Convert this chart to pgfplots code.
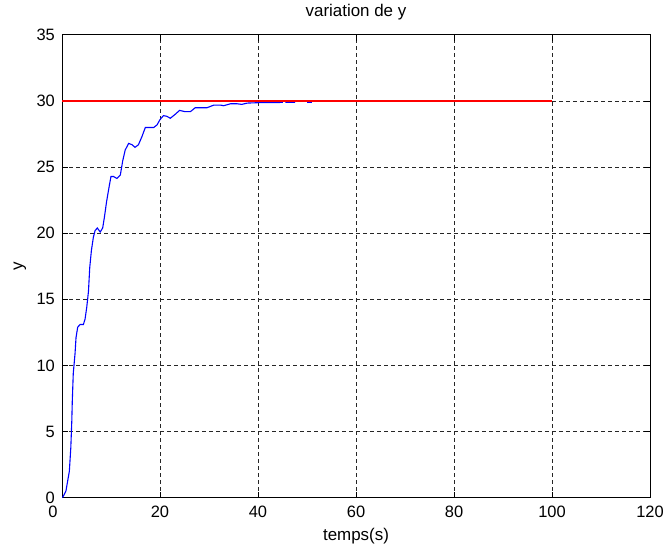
\documentclass[border=0pt]{standalone}
\usepackage{pgfplots}
\pgfplotsset{compat=1.18}
\usepackage{fontspec}
\setmainfont{Liberation Sans}

\definecolor{curveblue}{RGB}{0,0,255}
\definecolor{setred}{RGB}{255,0,0}

\begin{document}
\begin{tikzpicture}
% fixed page frame
\path[use as bounding box] (0,0) rectangle (663bp,552bp);
\begin{axis}[
  at={(62bp,54.3bp)}, anchor=south west,
  scale only axis,
  width=588bp, height=462.7bp,
  xmin=0, xmax=120, ymin=0, ymax=35,
  xtick={0,20,...,120},
  ytick={0,5,...,35},
  xticklabels={{\makebox[0pt]{0\hspace*{18bp}}},20,40,60,80,100,120},
  tick align=inside,
  xtick pos=both, ytick pos=both,
  major tick length=6bp,
  minor tick num=0,
  axis line style={black, line width=1bp},
  every tick/.style={black, line width=1bp},
  grid=major,
  major grid style={black!85, line width=1bp, dash pattern=on 4bp off 3bp},
  font=\fontsize{16.5}{19}\selectfont,
  /pgf/number format/assume math mode=true,
  xticklabel style={anchor=base, yshift=-20.3bp, inner sep=0pt},
  yticklabel style={anchor=east, xshift=-7bp, inner sep=0pt},
  title={variation de y},
  title style={at={(axis description cs:0.5,1.026)}, anchor=base, font=\fontsize{17}{20}\selectfont, inner sep=0pt},
  xlabel={temps(s)},
  xlabel style={at={(axis description cs:0.5,-0.0828)}, anchor=center, font=\fontsize{17}{20}\selectfont, inner sep=0pt},
  ylabel={y},
  ylabel style={at={(axis description cs:-0.0714,0.5)}, anchor=center, rotate=0, font=\fontsize{17}{20}\selectfont, inner sep=0pt},
  unbounded coords=jump,
]
% system output
\addplot[draw=curveblue, line width=1.1bp] coordinates {
(0.1,0) (0.8,0.5) (1.5,2) (1.8,3.8) (2.0,5.8) (2.1,7.3) (2.3,9.4)
(2.66,10.9) (2.86,12.1) (3.2,12.9) (3.7,13.1) (4.36,13.1) (4.7,13.5)
(5.05,14.4) (5.4,15.6) (5.66,17.4) (6.0,18.7) (6.4,19.7) (6.75,20.2)
(7.2,20.4) (7.8,20.1) (8.3,20.4) (8.65,21.2) (9.1,22.4) (9.7,23.7)
(10.0,24.3) (10.5,24.3) (11.2,24.15) (11.9,24.4) (12.4,25.5) (12.9,26.3)
(13.6,26.8) (14.3,26.7) (14.9,26.5) (15.6,26.7) (16.3,27.3) (17.0,28.0)
(17.65,28.0) (18.7,28.0) (19.4,28.2) (20.0,28.6) (20.7,28.9) (21.4,28.85)
(22.1,28.7) (23.1,29.0) (24.0,29.3) (25.1,29.2) (26.2,29.2) (27.2,29.5)
(28.2,29.5) (29.6,29.5) (31.0,29.7) (32.3,29.7) (33.0,29.65) (34.4,29.8)
(35.7,29.8) (36.7,29.75) (37.8,29.85) (40,29.88) (45.1,29.9)
(45.4,nan)
(45.6,29.9) (47.6,29.9)
(48.8,nan)
(50.0,29.9) (51.0,29.9)
};
% set point
\addplot[draw=setred, line width=1.3bp] coordinates {(0,30) (100,30)};
\end{axis}
\end{tikzpicture}
\end{document}
